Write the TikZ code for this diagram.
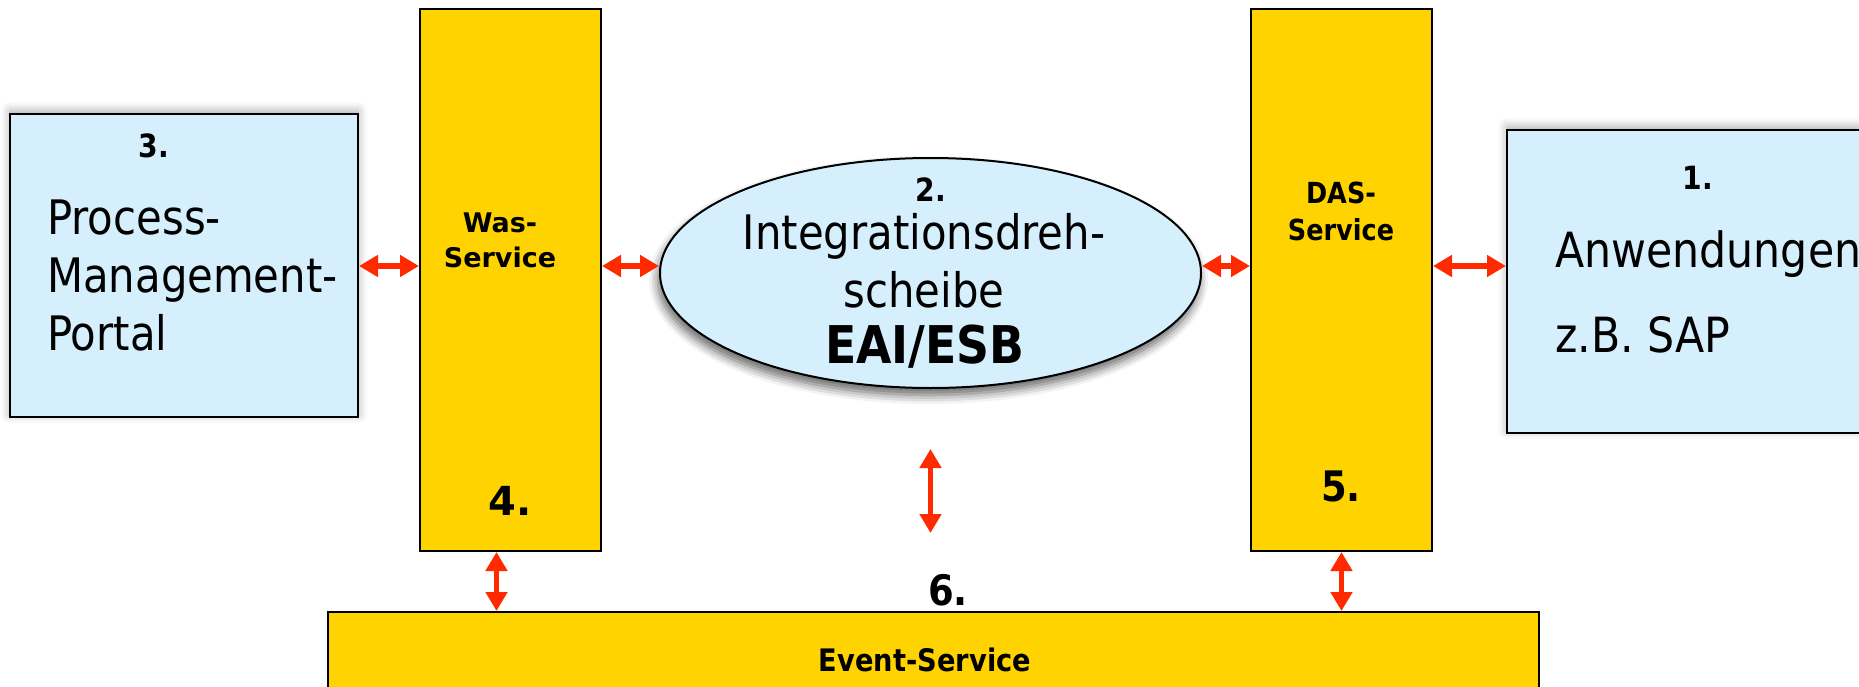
\documentclass[tikz,border=0pt]{standalone}
\usepackage{fontspec}
\setmainfont{DejaVu Sans}[FakeStretch=0.88]
\newfontfamily\widefont{DejaVu Sans}
\usetikzlibrary{arrows.meta,shapes.geometric,shadows.blur}

\definecolor{paleblue}{RGB}{213,239,253}
\definecolor{gold}{RGB}{254,211,0}
\definecolor{linkred}{RGB}{255,42,0}

\tikzset{
  client/.style={draw=black, line width=2pt, fill=paleblue,
    blur shadow={shadow xshift=0pt, shadow yshift=3pt, shadow blur radius=9pt, shadow opacity=35}},
  servicebar/.style={draw=black, line width=2pt, fill=gold},
  bodytext/.style={inner sep=0pt, font=\fontsize{47.5}{58}\selectfont},
  numlabel/.style={inner sep=0pt, font=\bfseries\fontsize{32}{36}\selectfont},
  biglabel/.style={inner sep=0pt, font=\bfseries\fontsize{42}{46}\selectfont},
  barlabel/.style={inner sep=0pt, align=center, font=\bfseries\fontsize{29}{37}\selectfont},
  link/.style={{Triangle[length=19pt,width=21pt]}-{Triangle[length=19pt,width=21pt]},
    draw=linkred, fill=linkred, line width=5.5pt},
}

\begin{document}
\begin{tikzpicture}[x=1pt, y=-1pt]
  \useasboundingbox (0,0) rectangle (1859,687);
  \clip (0,0) rectangle (1859,687);
  % clients
  \node[client, minimum width=348, minimum height=303] (portal) at (184,265.5) {};
  \node[client, minimum width=400, minimum height=303] (apps) at (1707,281.5) {};
  \node[client, ellipse, minimum width=541, minimum height=230,
    blur shadow={shadow xshift=-2pt, shadow yshift=-7pt}] (hub) at (930.5,273) {};
  % services
  \node[servicebar, minimum width=181, minimum height=542] (was) at (510.5,280) {};
  \node[servicebar, minimum width=181, minimum height=542] (das) at (1341.5,280) {};
  \node[servicebar, minimum width=1211, minimum height=150] (event) at (933.5,687) {};
  % labels
  \node[numlabel] (n3) at (154,146) {3.};
  \node[bodytext, anchor=west, align=left] (portaltext) at (47,276) {Process-\\Management-\\Portal};
  \node[barlabel, font=\widefont\bfseries\fontsize{27}{35}\selectfont] (wastext) at (500,240) {Was-\\Service};
  \node[biglabel, font=\widefont\bfseries\fontsize{40}{44}\selectfont] (n4) at (510,501) {4.};
  \node[numlabel] (n2) at (931,190) {2.};
  \node[bodytext, align=center] (hubtext) at (924,261) {Integrationsdreh-\\scheibe};
  \node[inner sep=0pt, font=\bfseries\fontsize{52}{56}\selectfont] (esb) at (925,347) {EAI/ESB};
  \node[barlabel] (dastext) at (1341,211) {DAS-\\Service};
  \node[biglabel] (n5) at (1341,486) {5.};
  \node[numlabel] (n1) at (1698,178) {1.};
  \node[bodytext, anchor=west, align=left, font=\fontsize{48.5}{85}\selectfont] (appstext) at (1555,292) {Anwendungen\\z.B. SAP};
  \node[biglabel] (n6) at (948,590) {6.};
  \node[barlabel, font=\bfseries\fontsize{31}{37}\selectfont] (eventtext) at (925,660) {Event-Service};
  % links
  \coordinate (axis) at (0,266);
  \draw[link] (portal.east |- axis) -- (was.west |- axis);
  \draw[link] (was.east |- axis) -- (hub.west |- axis);
  \draw[link] (hub.east |- axis) -- (das.west |- axis);
  \draw[link] (das.east |- axis) -- (apps.west |- axis);
  \draw[link] ([xshift=-14pt]was.south) -- ([xshift=-14pt]was.south |- event.north);
  \draw[link] (das.south) -- (das.south |- event.north);
  \draw[link, shorten <=60pt, shorten >=78pt] (hub.south) -- (hub.south |- event.north);
\end{tikzpicture}
\end{document}
